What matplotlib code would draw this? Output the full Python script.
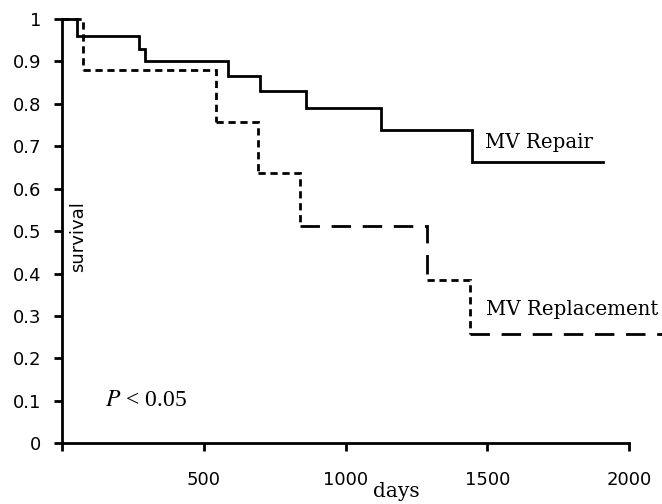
import matplotlib
matplotlib.use("Agg")
import matplotlib.pyplot as plt

# ---- data ----
repair_days = [0, 52, 270, 294, 585, 700, 862, 1125, 1445, 1907]
repair_surv = [1.0, 0.96, 0.93, 0.90, 0.865, 0.83, 0.79, 0.738, 0.664, 0.664]

replace_days = [0, 75, 543, 692, 838, 1289, 1440, 2150]
replace_surv = [1.0, 0.88, 0.758, 0.636, 0.512, 0.386, 0.257, 0.257]
# dash style per horizontal step of the replacement curve
replace_dash = ["short", "short", "short", "short", "long", "short", "long"]

x_ticks = [0, 500, 1000, 1500, 2000]
x_tick_labels = ["", "500", "1000", "1500", "2000"]
y_ticks = [0, 0.1, 0.2, 0.3, 0.4, 0.5, 0.6, 0.7, 0.8, 0.9, 1.0]
y_tick_labels = ["0", "0.1", "0.2", "0.3", "0.4", "0.5", "0.6", "0.7", "0.8", "0.9", "1"]

plt.rcParams["mathtext.fontset"] = "stix"

fig = plt.figure(figsize=(6.62, 5.04), dpi=100)
ax = fig.add_axes([62 / 662, 60.7 / 504, 600 / 662, (443.3 - 19) / 504])
ax.set_xlim(0, 600 / 0.2835)
ax.set_ylim(0, 1)

lw = 2.0
ax.step(repair_days, repair_surv, where="post", color="black", lw=lw,
        clip_on=False, solid_joinstyle="miter")

dash_map = {"short": (2.6, 1.7), "long": (7.0, 4.2)}
for i in range(len(replace_days) - 1):
    xs = [replace_days[i], replace_days[i + 1]]
    ys = [replace_surv[i], replace_surv[i]]
    if i + 1 < len(replace_days) - 1:
        xs.append(replace_days[i + 1])
        ys.append(replace_surv[i + 1])
    ax.plot(xs, ys, color="black", lw=lw, dashes=dash_map[replace_dash[i]],
            clip_on=False, dash_capstyle="butt", dash_joinstyle="miter")

for s in ["top", "right"]:
    ax.spines[s].set_visible(False)
for s in ["left", "bottom"]:
    ax.spines[s].set_linewidth(2.0)
ax.spines["bottom"].set_bounds(0, 2000)

ax.set_xticks(x_ticks)
ax.set_xticklabels(x_tick_labels, fontsize=13, family="DejaVu Sans")
ax.set_yticks(y_ticks)
ax.set_yticklabels(y_tick_labels, fontsize=13, family="DejaVu Sans")
ax.tick_params(axis="x", direction="out", length=6, width=2, pad=14)
ax.tick_params(axis="y", direction="out", length=6, width=2, pad=9)

ax.text(1493, 0.695, "MV Repair", fontsize=14.2, family="DejaVu Serif",
        ha="left", va="baseline")
ax.text(1497, 0.302, "MV Replacement", fontsize=14.2, family="DejaVu Serif",
        ha="left", va="baseline")
ax.text(152, 0.088, r"$P$ < 0.05", fontsize=17, family="Liberation Serif",
        ha="left", va="baseline")
ax.text(57, 0.487, "survival", fontsize=13, family="DejaVu Sans",
        rotation=90, ha="center", va="center")
ax.text(1097, -0.127, "days", fontsize=14.5, family="DejaVu Serif",
        ha="left", va="baseline", clip_on=False)

fig.savefig("out.png", dpi=100)
